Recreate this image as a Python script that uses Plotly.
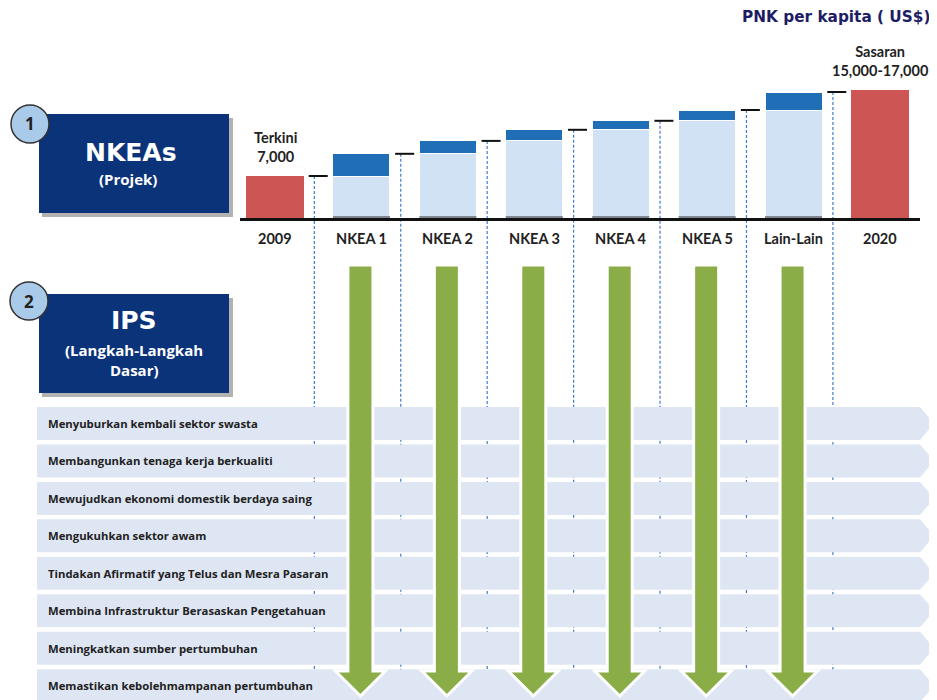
import plotly.graph_objects as go
import numpy as np

# ---------------- data ----------------
categories = ["2009", "NKEA 1", "NKEA 2", "NKEA 3", "NKEA 4", "NKEA 5", "Lain-Lain", "2020"]
start_value = 7000          # PNK per kapita 2009 (Terkini)
nkea_cats = ["NKEA 1", "NKEA 2", "NKEA 3", "NKEA 4", "NKEA 5", "Lain-Lain"]
nkea_increments = [3700, 2150, 1850, 1500, 1800, 3000]
target_value = 21300        # 2020 bar height (Sasaran)
top_labels = {"2009": "Terkini<br>7,000", "2020": "Sasaran<br>15,000-17,000"}
ips_rows = [
    "Menyuburkan kembali sektor swasta",
    "Membangunkan tenaga kerja berkualiti",
    "Mewujudkan ekonomi domestik berdaya saing",
    "Mengukuhkan sektor awam",
    "Tindakan Afirmatif yang Telus dan Mesra Pasaran",
    "Membina Infrastruktur Berasaskan Pengetahuan",
    "Meningkatkan sumber pertumbuhan",
    "Memastikan kebolehmampanan pertumbuhan",
]

cat_pos = {c: i for i, c in enumerate(categories)}
cum = start_value + np.cumsum([0] + nkea_increments)
bases = cum[:-1].tolist()
levels = [start_value] + cum[1:].tolist()   # connector levels after each bar

OFF = 8                      # browser body margin
W, H = 937 - OFF, 700 - OFF  # figure size
K = 7000 / 42.0              # value per pixel
BASE_PX = 218
PITCH = 86.43
X0 = 275


def X(p):
    return (p - OFF) / W


def Y(p):
    return 1 - (p - OFF) / H


RED = "#cd5654"
LIGHT = "#d0e2f3"
DARK = "#1f6eb6"
GREEN = "#8aad48"
NAVY = "#0b337a"
ROW = "#dfe6f3"
TXT = "#222222"

fig = go.Figure()
fig.add_bar(x=[cat_pos["2009"], cat_pos["2020"]], y=[start_value, target_value],
            marker_color=RED, marker_line_width=0, showlegend=False)
fig.add_bar(x=[cat_pos[c] for c in nkea_cats], y=bases, marker_color=LIGHT,
            marker_line_color="white", marker_line_width=1, showlegend=False)
fig.add_bar(x=[cat_pos[c] for c in nkea_cats], y=nkea_increments, marker_color=DARK,
            marker_line_color="white", marker_line_width=1, showlegend=False)

shapes = []
annotations = []

# thin grey foot on the NKEA bars
for c in nkea_cats:
    i = cat_pos[c]
    shapes.append(dict(type="rect", xref="x", yref="y", x0=i - 0.33, x1=i + 0.33,
                       y0=0, y1=2 * K, fillcolor="#7f8790", line=dict(width=0)))

# dashed vertical guides + connectors (data coords)
for i, lv in enumerate(levels):
    xc = i + 0.5
    shapes.append(dict(type="line", xref="x", yref="y", x0=xc - 0.045, x1=xc - 0.045,
                       y0=lv, y1=(BASE_PX - 690) * K,
                       line=dict(color="#3f7bcc", width=1.2, dash="3px,2px"), layer="below"))
    shapes.append(dict(type="line", xref="x", yref="y", x0=xc - 0.11, x1=xc + 0.11,
                       y0=lv, y1=lv, line=dict(color="#111111", width=2)))

# baseline
shapes.append(dict(type="line", xref="paper", yref="paper", x0=X(240), x1=X(920),
                   y0=Y(219.5), y1=Y(219.5), line=dict(color="#111111", width=3)))

# chevron rows
for r, txt in enumerate(ips_rows):
    top = 407 + 37.45 * r
    bot = top + 33
    mid = (top + bot) / 2
    path = (f"M {X(37)},{Y(top)} L {X(920)},{Y(top)} L {X(934)},{Y(mid)} "
            f"L {X(920)},{Y(bot)} L {X(37)},{Y(bot)} Z")
    shapes.append(dict(type="path", xref="paper", yref="paper", path=path,
                       fillcolor=ROW, line=dict(width=0)))
    annotations.append(dict(xref="paper", yref="paper", x=X(46), y=Y(mid), text=f"<b>{txt}</b>",
                            showarrow=False, xanchor="left", yanchor="middle",
                            font=dict(family="Open Sans", size=11.3, color=TXT)))

# green arrows under each NKEA bar
for c in nkea_cats:
    cx = X0 + PITCH * cat_pos[c] - 1
    sw, hw = 12.5, 25
    t, hs, tip = 265, 671, 696
    path = (f"M {X(cx - sw)},{Y(t)} L {X(cx + sw)},{Y(t)} L {X(cx + sw)},{Y(hs)} "
            f"L {X(cx + hw)},{Y(hs)} L {X(cx)},{Y(tip)} L {X(cx - hw)},{Y(hs)} "
            f"L {X(cx - sw)},{Y(hs)} Z")
    shapes.append(dict(type="path", xref="paper", yref="paper", path=path,
                       fillcolor=GREEN, line=dict(color="white", width=3)))

# title boxes with shadows
for (y0, y1) in [(114, 213), (294, 393)]:
    shapes.append(dict(type="rect", xref="paper", yref="paper", x0=X(42), x1=X(233),
                       y0=Y(y0 + 4), y1=Y(y1 + 4), fillcolor="rgba(0,0,0,0.3)",
                       line=dict(width=0)))
    shapes.append(dict(type="rect", xref="paper", yref="paper", x0=X(39), x1=X(229),
                       y0=Y(y0), y1=Y(y1), fillcolor=NAVY, line=dict(width=0)))

for (cx, cy, lab) in [(30, 124, "1"), (29, 301, "2")]:
    shapes.append(dict(type="circle", xref="paper", yref="paper", x0=X(cx - 19), x1=X(cx + 19),
                       y0=Y(cy - 19), y1=Y(cy + 19), fillcolor="#a9cbe9",
                       line=dict(color="#333333", width=1.5)))
    annotations.append(dict(xref="paper", yref="paper", x=X(cx), y=Y(cy), text=f"<b>{lab}</b>",
                            showarrow=False, xanchor="center", yanchor="middle",
                            font=dict(family="Open Sans", size=17, color=TXT)))

box_texts = [
    (131, 153, "<b>NKEAs</b>", "DejaVu Sans", 25),
    (128, 179, "<b>(Projek)</b>", "Open Sans", 15),
    (134, 320, "<b>IPS</b>", "DejaVu Sans", 25),
    (134, 350, "<b>(Langkah-Langkah</b>", "Open Sans", 15),
    (134, 370, "<b>Dasar)</b>", "Open Sans", 15),
]
for (x, y, t, f, s) in box_texts:
    annotations.append(dict(xref="paper", yref="paper", x=X(x), y=Y(y), text=t, showarrow=False,
                            xanchor="center", yanchor="middle",
                            font=dict(family=f, size=s, color="white")))

# category labels
for c in categories:
    annotations.append(dict(xref="x", yref="y", x=cat_pos[c], y=0, yshift=-20, text=f"<b>{c}</b>",
                            showarrow=False, xanchor="center", yanchor="middle",
                            font=dict(family="Lato", size=14.5, color=TXT)))

# value labels
for c, v in [("2009", start_value), ("2020", target_value)]:
    annotations.append(dict(xref="x", yref="y", x=cat_pos[c], y=v, yshift=9,
                            text=f"<b>{top_labels[c]}</b>", showarrow=False,
                            xanchor="center", yanchor="bottom",
                            font=dict(family="Lato", size=14.5, color=TXT)))

annotations.append(dict(xref="paper", yref="paper", x=X(932), y=Y(17), xanchor="right",
                        yanchor="middle", text="<b>PNK per kapita ( US$)</b>", showarrow=False,
                        font=dict(family="DejaVu Sans", size=15.3, color="#1d1d66")))

fig.update_layout(
    width=W, height=H, margin=dict(l=0, r=0, t=0, b=0),
    paper_bgcolor="white", plot_bgcolor="white",
    barmode="stack", bargap=0.34,
    xaxis=dict(range=[(OFF - X0) / PITCH, (937 - X0) / PITCH], domain=[0, 1],
               showgrid=False, zeroline=False, showticklabels=False, showline=False),
    yaxis=dict(range=[(BASE_PX - 700) * K, (BASE_PX - OFF) * K], domain=[0, 1],
               showgrid=False, zeroline=False, showticklabels=False, showline=False),
    shapes=shapes, annotations=annotations, showlegend=False,
)

fig.write_html("out.html")
